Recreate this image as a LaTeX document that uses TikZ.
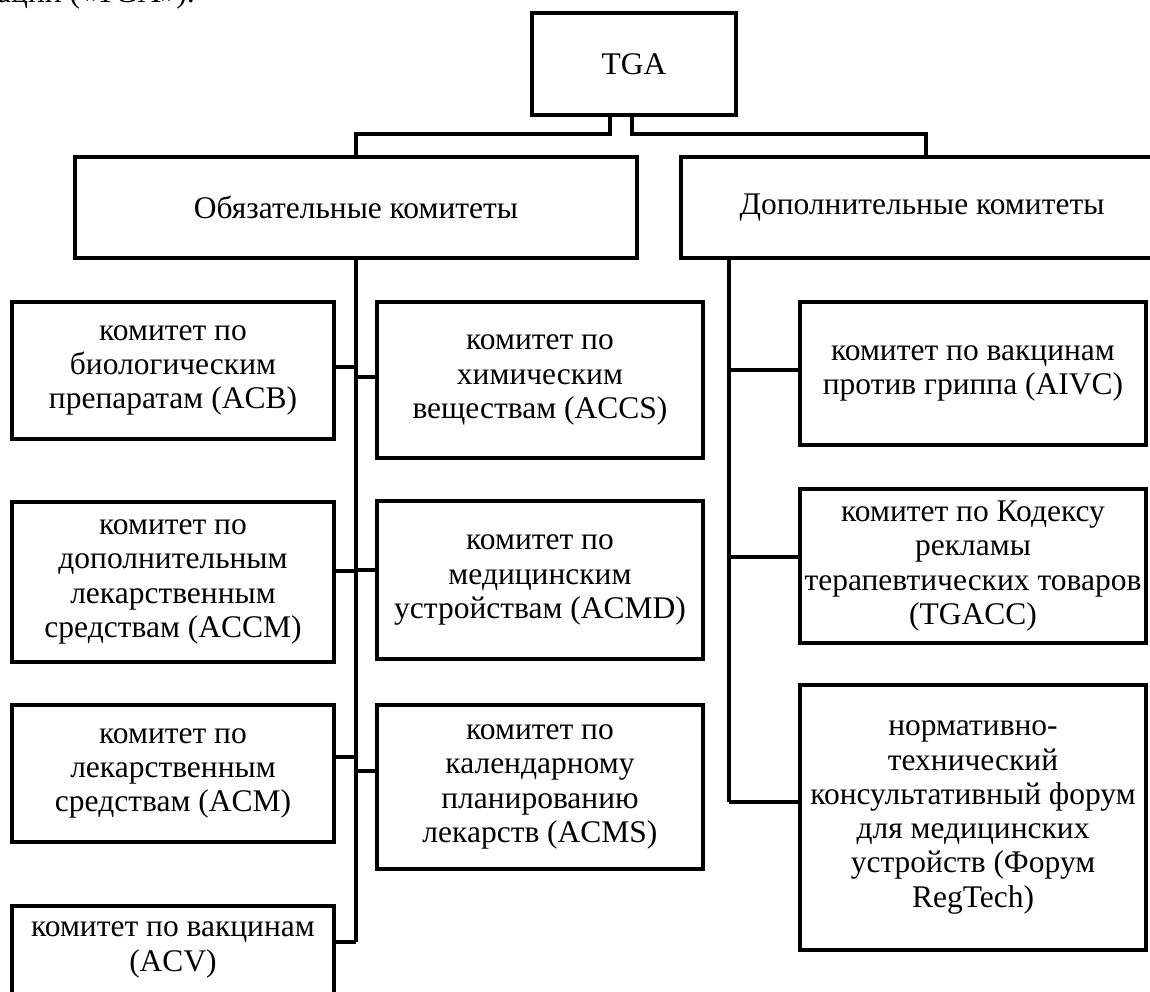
\documentclass[tikz,border=0pt]{standalone}
\usepackage{fontspec}
\setmainfont{Liberation Serif}
\begin{document}
\begin{tikzpicture}[x=1pt,y=-1pt,
  box/.style={draw=black, line width=4.5pt, rectangle, inner sep=0pt, align=center,
    font=\fontsize{31.5}{34.3}\selectfont},
  conn/.style={draw=black, line width=4.5pt},
  lbl/.style={font=\fontsize{31.5}{34.3}\selectfont, inner sep=0pt}]
\useasboundingbox (0,0) rectangle (1150,992);
\clip (0,0) rectangle (1150,992);
% cut-off text at top
\node[lbl, anchor=base west] (frag) at (-3,3) {ации («TGA»).};
% top level
\node[box, minimum width=204pt, minimum height=102pt] (tga) at (634,64) {TGA};
\node[box, minimum width=562pt, minimum height=101pt] (oblig) at (356,207.5) {Обязательные комитеты};
\node[box, minimum width=482pt, minimum height=101pt] (dop) at (922,207.5) {Дополнительные комитеты};
% left column
\node[box, minimum width=322pt, minimum height=137pt] (acb) at (173,370.5) {комитет по\\биологическим\\препаратам (ACB)};
\node[box, minimum width=322pt, minimum height=160pt] (accm) at (173,582) {комитет по\\дополнительным\\лекарственным\\средствам (ACCM)};
\node[box, minimum width=322pt, minimum height=137pt] (acm) at (173,773.5) {комитет по\\лекарственным\\средствам (ACM)};
\node[box, minimum width=322pt, minimum height=88pt] (acv) at (173,950) {комитет по вакцинам\\(ACV)};
% middle column
\node[box, minimum width=326pt, minimum height=156pt] (accs) at (540,380) {комитет по\\химическим\\веществам (ACCS)};
\node[box, minimum width=326pt, minimum height=158pt] (acmd) at (540,580) {комитет по\\медицинским\\устройствам (ACMD)};
\node[box, minimum width=326pt, minimum height=164pt] (acms) at (540,787) {комитет по\\календарному\\планированию\\лекарств (ACMS)};
% right column
\node[box, minimum width=346pt, minimum height=143pt] (aivc) at (973,373.5) {комитет по вакцинам\\против гриппа (AIVC)};
\node[box, minimum width=346pt, minimum height=154pt] (tgacc) at (973,566) {комитет по Кодексу\\рекламы\\терапевтических товаров\\(TGACC)};
\node[box, minimum width=346pt, minimum height=265pt] (regtech) at (973,817.5) {нормативно-\\технический\\консультативный форум\\для медицинских\\устройств (Форум\\RegTech)};
% trunk ends
\coordinate (ltEnd) at (356,942);
\coordinate (rtEnd) at (729,802);
% connectors from TGA
\draw[conn] (tga.south -| 610,0) -- (610,134) -- (356,134) -- (oblig.north);
\draw[conn] (tga.south -| 632,0) -- (632,134) -- (926,134) -- (dop.north -| 926,0);
% left trunk
\draw[conn] (oblig.south) -- (ltEnd);
\draw[conn] (acb.east |- 0,367) -- (356,367);
\draw[conn] (accm.east |- 0,571) -- (356,571);
\draw[conn] (acm.east |- 0,757) -- (356,757);
\draw[conn] (acv.east |- ltEnd) -- (ltEnd);
\draw[conn] (accs.west |- 0,377) -- (356,377);
\draw[conn] (acmd.west |- 0,570) -- (356,570);
\draw[conn] (acms.west |- 0,771) -- (356,771);
% right trunk
\draw[conn] (dop.south -| rtEnd) -- (rtEnd);
\draw[conn] (aivc.west |- 0,370) -- (729,370);
\draw[conn] (tgacc.west |- 0,557) -- (729,557);
\draw[conn] (regtech.west |- rtEnd) -- (rtEnd);
\end{tikzpicture}
\end{document}
